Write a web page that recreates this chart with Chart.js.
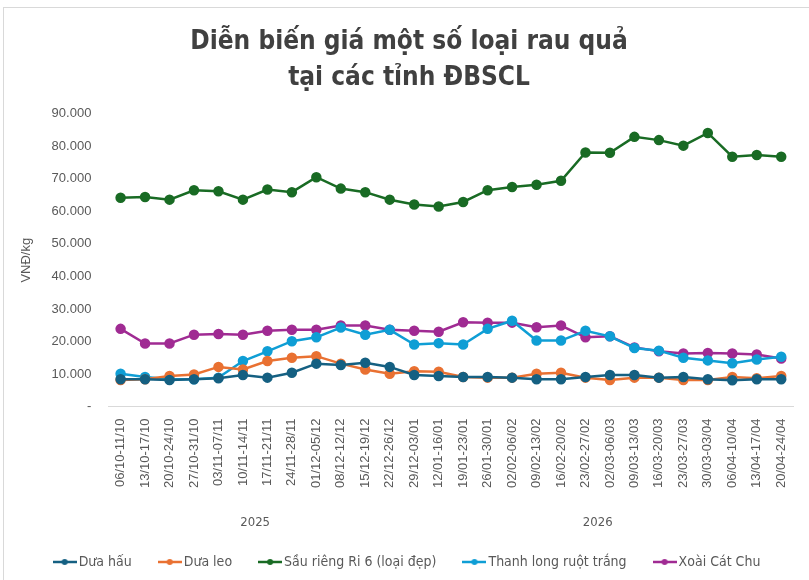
<!DOCTYPE html>
<html>
<head>
<meta charset="utf-8">
<script src="https://cdn.jsdelivr.net/npm/chart.js@4.4.1/dist/chart.umd.min.js"></script>
<style>
  body { margin: 0; background: #fff; }
  #frame { position: absolute; left: 3px; top: 7px; width: 806px; height: 573px; border: 1px solid #d9d9d9; border-right: none; border-bottom: none; }
  #wrap { position: absolute; left: 0; top: 0; width: 809px; height: 580px; }
</style>
</head>
<body>
<div id="frame"></div>
<div id="wrap"><canvas id="chartCanvas" width="809" height="580"></canvas></div>
<script>
const weeks = [
    '06/10-11/10', '13/10-17/10', '20/10-24/10', '27/10-31/10', '03/11-07/11',
    '10/11-14/11', '17/11-21/11', '24/11-28/11', '01/12-05/12', '08/12-12/12',
    '15/12-19/12', '22/12-26/12', '29/12-03/01', '12/01-16/01', '19/01-23/01',
    '26/01-30/01', '02/02-06/02', '09/02-13/02', '16/02-20/02', '23/02-27/02',
    '02/03-06/03', '09/03-13/03', '16/03-20/03', '23/03-27/03', '30/03-03/04',
    '06/04-10/04', '13/04-17/04', '20/04-24/04'
];

// year groups under the week labels (first week index of each)
const years = ['2025', '2026'];
const yearStarts = [0, 12];

const duaHau = [8400, 8400, 8200, 8400, 8700, 9700, 8900, 10400, 13200, 12800, 13500, 12200, 9700, 9400,
    9100, 9100, 8900, 8400, 8400, 9100, 9700, 9700, 8900, 9100, 8400, 8100, 8400, 8400];
const duaLeo = [8200, 8400, 9400, 9900, 12200, 11400, 14000, 15000, 15500, 13200, 11400, 10100, 10900, 10700,
    9100, 8900, 8900, 10100, 10400, 8900, 8200, 8900, 8900, 8200, 8200, 9100, 8700, 9400];
const sauRieng = [64200, 64400, 63600, 66500, 66200, 63600, 66700, 65900, 70500, 67000, 65900, 63600, 62100, 61500,
    62900, 66500, 67500, 68200, 69400, 78100, 78000, 82900, 81900, 80200, 84100, 76800, 77300, 76800];
const thanhLong = [10100, 9100, 8400, 8400, 8900, 14000, 17000, 20100, 21300, 24300, 22100, 23600, 19100, 19500,
    19100, 23900, 26400, 20300, 20300, 23300, 21600, 18000, 17200, 15000, 14200, 13300, 14500, 15300];
const xoaiCatChu = [23900, 19400, 19400, 22100, 22300, 22100, 23300, 23600, 23600, 24900, 24900, 23600, 23300, 23000,
    25900, 25800, 25800, 24400, 24900, 21300, 21600, 18200, 17000, 16300, 16500, 16300, 16000, 14800];

const seriesNames = ['Dưa hấu', 'Dưa leo', 'Sầu riêng Ri 6 (loại đẹp)', 'Thanh long ruột trắng', 'Xoài Cát Chu'];
const seriesColors = ['#156082', '#E97132', '#196B24', '#0F9ED5', '#A02B93'];

const narrow = "'Liberation Sans Narrow', 'DejaVu Sans Condensed', sans-serif";
const plain = "'Liberation Sans', Arial, sans-serif";
const textGray = '#595959';

// little line-with-dot marker for the legend
function legendMarker(color) {
    const c = document.createElement('canvas');
    c.width = 24;
    c.height = 10;
    const g = c.getContext('2d');
    g.strokeStyle = color;
    g.lineWidth = 2.5;
    g.beginPath();
    g.moveTo(0, 5);
    g.lineTo(24, 5);
    g.stroke();
    g.fillStyle = color;
    g.beginPath();
    g.arc(12, 5, 3, 0, Math.PI * 2);
    g.fill();
    return c;
}

const yearRow = {
    id: 'yearRow',
    afterDraw(chart) {
        const x = chart.scales.x;
        const ctx = chart.ctx;
        ctx.save();
        ctx.fillStyle = textGray;
        ctx.font = '13px ' + narrow;
        ctx.textAlign = 'center';
        ctx.textBaseline = 'middle';
        years.forEach((yr, i) => {
            const first = yearStarts[i];
            const last = i + 1 < yearStarts.length ? yearStarts[i + 1] - 1 : weeks.length - 1;
            const mid = (x.getPixelForValue(first) + x.getPixelForValue(last)) / 2;
            ctx.fillText(yr, mid, x.top + 116);
        });
        ctx.restore();
    }
};

const allSeries = [duaHau, duaLeo, sauRieng, thanhLong, xoaiCatChu];

const ctx = document.getElementById('chartCanvas').getContext('2d');
new Chart(ctx, {
    type: 'line',
    data: {
        labels: weeks,
        datasets: allSeries.map((vals, i) => ({
            label: seriesNames[i],
            data: vals,
            borderColor: seriesColors[i],
            backgroundColor: seriesColors[i],
            borderWidth: 2.5,
            pointRadius: 4,
            pointHoverRadius: 4,
            pointStyle: 'circle',
            tension: 0
        }))
    },
    options: {
        responsive: false,
        animation: false,
        layout: { padding: { left: 19, right: 10, top: 0, bottom: 1 } },
        plugins: {
            title: {
                display: true,
                text: ['Diễn biến giá một số loại rau quả', 'tại các tỉnh ĐBSCL'],
                color: '#404040',
                font: { family: narrow, size: 26, weight: 'bold', lineHeight: 1.38 },
                padding: { top: 24, bottom: 18 }
            },
            legend: {
                position: 'bottom',
                labels: {
                    usePointStyle: true,
                    generateLabels(chart) {
                        return chart.data.datasets.map((ds, i) => ({
                            text: ds.label,
                            pointStyle: legendMarker(seriesColors[i]),
                            fillStyle: seriesColors[i],
                            strokeStyle: seriesColors[i],
                            fontColor: textGray,
                            lineWidth: 0,
                            datasetIndex: i
                        }));
                    },
                    color: textGray,
                    font: { family: narrow, size: 14 },
                    padding: 31
                }
            },
            tooltip: { enabled: false }
        },
        scales: {
            x: {
                offset: true,
                grid: { display: false, drawTicks: false },
                border: { display: true, color: '#d9d9d9' },
                ticks: {
                    color: textGray,
                    font: { family: plain, size: 13 },
                    minRotation: 90,
                    maxRotation: 90,
                    autoSkip: false,
                    padding: 12
                },
                afterFit(scale) {
                    scale.height += 24;
                }
            },
            y: {
                min: 0,
                max: 90000,
                grid: { display: false, drawTicks: false },
                border: { display: false },
                ticks: {
                    stepSize: 10000,
                    color: textGray,
                    font: { family: plain, size: 13 },
                    padding: 17,
                    callback: (v) => v === 0 ? '-' : v.toLocaleString('de-DE')
                },
                title: {
                    display: true,
                    text: 'VNĐ/kg',
                    color: textGray,
                    font: { family: plain, size: 13 },
                    padding: { top: 0, bottom: 0 }
                }
            }
        }
    },
    plugins: [yearRow]
});
</script>
</body>
</html>
